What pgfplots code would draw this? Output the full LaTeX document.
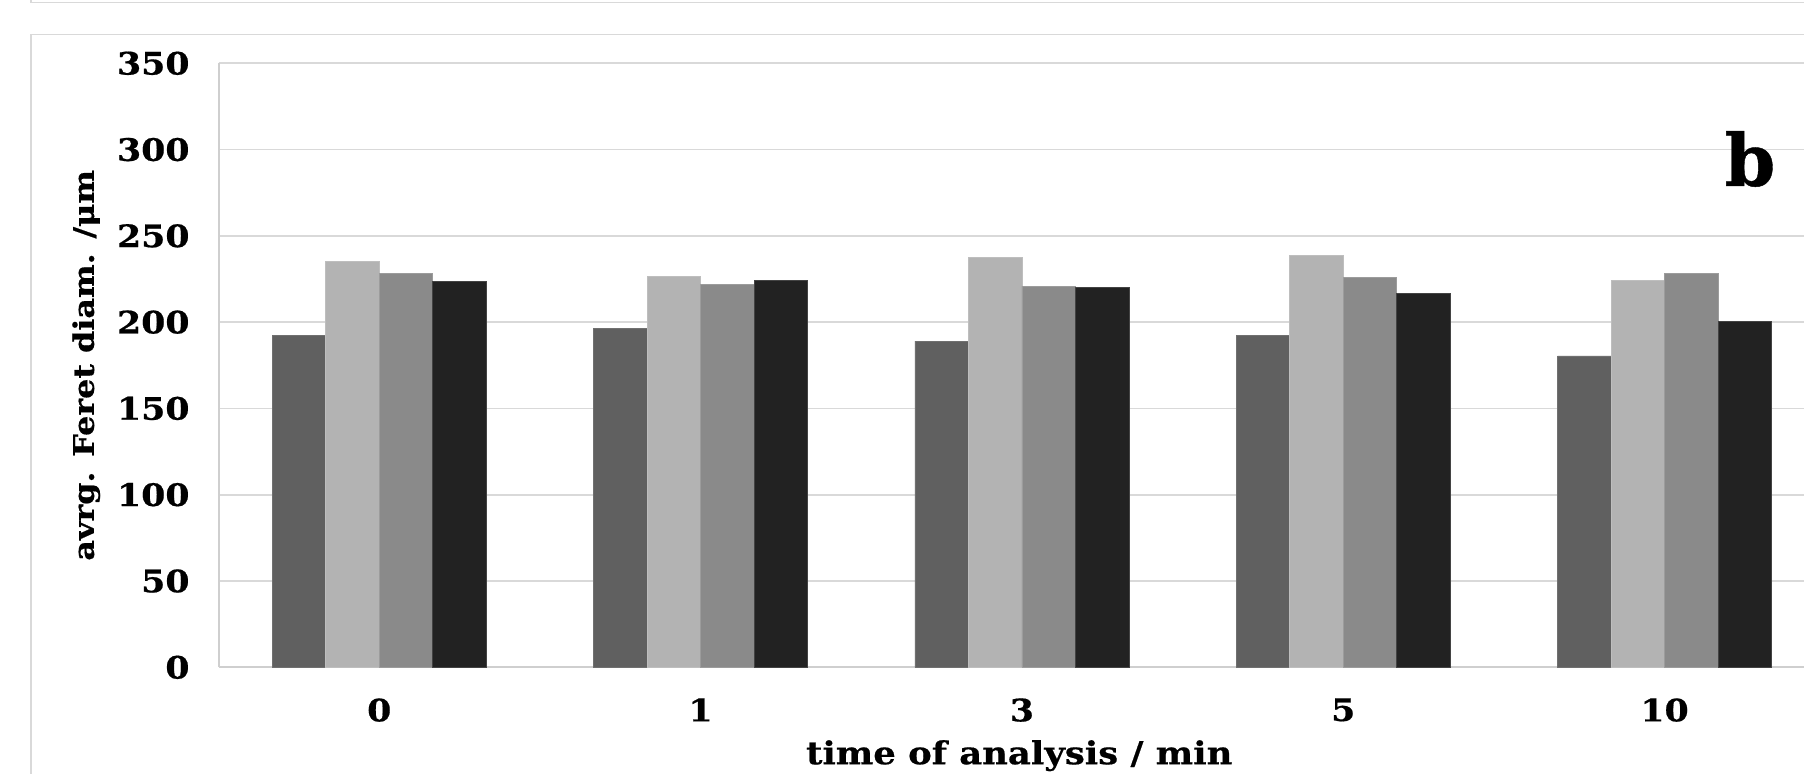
\documentclass[border=0pt]{standalone}
\usepackage{fontspec}
\setmainfont{DejaVu Serif}[FakeStretch=1.12, BoldFeatures={FakeBold=0.6}]
\usepackage{pgfplots}
\pgfplotsset{compat=1.18}
\definecolor{gridgray}{HTML}{D9D9D9}
\definecolor{axgray}{HTML}{CFCFCF}
\definecolor{cA}{HTML}{606060}
\definecolor{cB}{HTML}{B3B3B3}
\definecolor{cC}{HTML}{8A8A8A}
\definecolor{cD}{HTML}{222222}
\begin{document}
\begin{tikzpicture}
\useasboundingbox (0,0) rectangle (902pt,387pt);
% panel frames
\draw[gridgray, line width=0.8pt] (15.5pt,-1pt) -- (15.5pt,369.75pt) -- (903pt,369.75pt);
\draw[gridgray, line width=0.8pt] (15.5pt,388pt) -- (15.5pt,385.8pt) -- (903pt,385.8pt);
\begin{axis}[
  at={(109.3pt,53.35pt)}, anchor=south west,
  scale only axis, width=792.7pt, height=302pt,
  ybar=0pt, bar width=0.1665,
  xmin=-0.5, xmax=4.434,
  ymin=0, ymax=350,
  xtick=data, xticklabels={0,1,3,5,10},
  ytick={0,50,...,350},
  axis x line*=bottom, axis y line*=left,
  axis line style={axgray, line width=0.9pt, -},
  major tick length=0pt,
  ymajorgrids, grid style={gridgray, line width=0.9pt},
  /pgf/number format/assume math mode=true,
  tick label style={font=\fontsize{15.5}{17}\selectfont\bfseries},
  yticklabel style={xshift=-11pt},
  xticklabel style={yshift=-12pt},
  xlabel={time of analysis / min},
  ylabel={avrg. Feret diam. /μm},
  xlabel style={font=\fontsize{15.8}{17}\selectfont\bfseries, at={(axis description cs:0.505,0)}, anchor=center, yshift=-44.2pt},
  ylabel style={font=\fontsize{14.2}{16}\selectfont\bfseries, at={(axis description cs:-0.0835,0.5)}, anchor=center, rotate=0},
  clip=false,
]
\addplot[fill=cA, draw=cA!90!white, line width=0.4pt] coordinates {(0,192.4) (1,196.5) (2,189) (3,192.4) (4,180.4)};
\addplot[fill=cB, draw=cB!85!white, line width=0.4pt] coordinates {(0,235) (1,226.6) (2,237.6) (3,238.9) (4,224.1)};
\addplot[fill=cC, draw=cC!85!white, line width=0.4pt] coordinates {(0,228.2) (1,222) (2,220.8) (3,225.7) (4,228.2)};
\addplot[fill=cD, draw=cD!85!white, line width=0.4pt] coordinates {(0,223.5) (1,224.1) (2,219.9) (3,216.7) (4,200.4)};
\end{axis}
\node[font=\fontsize{36}{40}\selectfont\bfseries, xscale=0.9] at (875pt,307.5pt) {b};
\end{tikzpicture}
\end{document}
